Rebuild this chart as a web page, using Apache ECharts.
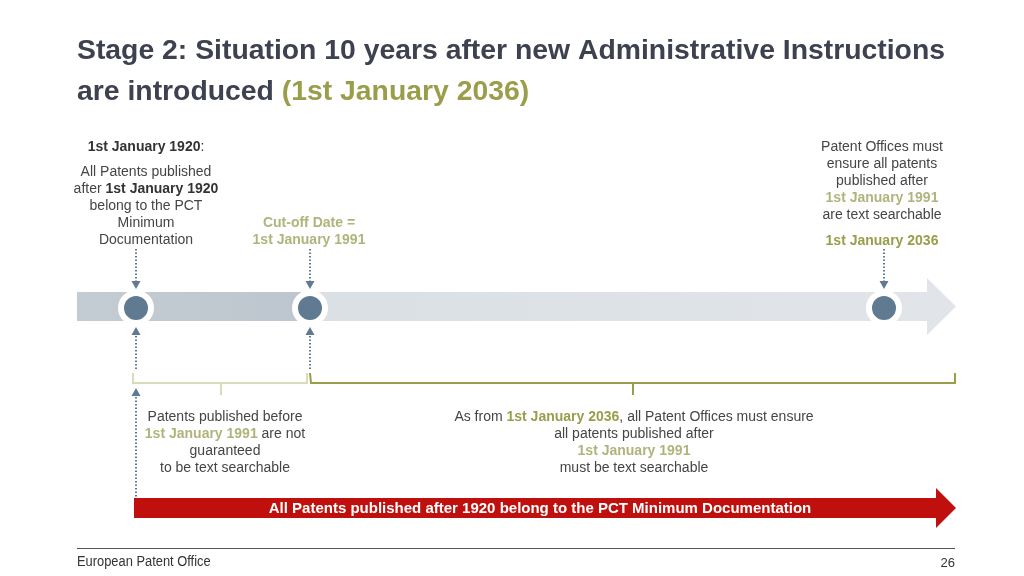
<!DOCTYPE html>
<html>
<head>
<meta charset="utf-8">
<script src="https://cdn.jsdelivr.net/npm/echarts@6/dist/echarts.min.js"></script>
<style>html,body{margin:0;padding:0;background:#fff}#c{width:1024px;height:576px}</style>
</head>
<body>
<div id="c"></div>
<script>
// ---- content (text data) ----
var titleLine1 = 'Stage 2: Situation 10 years after new Administrative Instructions';
var titleLine2a = 'are introduced ';
var titleLine2b = '(1st January 2036)';
var milestones = ['1st January 1920', '1st January 1991', '1st January 2036'];
var topLeftLines = ['{b|1st January 1920}:', 'All Patents published', 'after {b|1st January 1920}', 'belong to the PCT', 'Minimum', 'Documentation'];
var cutoffLines = ['Cut-off Date =', '1st January 1991'];
var topRightLines = ['Patent Offices must', 'ensure all patents', 'published after', '{g|1st January 1991}', 'are text searchable'];
var topRightDate = '1st January 2036';
var bottomLeftLines = ['Patents published before', '{g|1st January 1991} are not', 'guaranteed', 'to be text searchable'];
var bottomMidLines = ['As from {o|1st January 2036}, all Patent Offices must ensure', 'all patents published after', '{g|1st January 1991}', 'must be text searchable'];
var redArrowText = 'All Patents published after 1920 belong to the PCT Minimum Documentation';
var footerLeft = 'European Patent Office';
var footerRight = '26';

// ---- styles ----
var F = '"Liberation Sans", Arial, Helvetica, sans-serif';
var TXT = '#454545';
var DARK = '#3d4150';
var OLIVE = '#9a9d4a';
var LOLIVE = '#b0b47c';
var MARK = '#5f7a91';
var RED = '#c0100e';

function measure(text, font) {
  var c = document.createElement('canvas').getContext('2d');
  c.font = font; return c.measureText(text).width;
}
var richStyles = {
  b: {fontWeight: 'bold', fill: '#333', color: '#333', fontSize: 14, fontFamily: F},
  g: {fontWeight: 'bold', fill: LOLIVE, color: LOLIVE, fontSize: 14, fontFamily: F},
  o: {fontWeight: 'bold', fill: OLIVE, color: OLIVE, fontSize: 14, fontFamily: F}
};
function T(x, y, text, o) {
  var st = {text: text, fill: TXT, fontSize: 14, fontFamily: F, align: 'center', verticalAlign: 'middle',
    textAlign: 'center', textVerticalAlign: 'middle', rich: richStyles};
  for (var k in (o || {})) st[k] = o[k];
  return {type: 'text', x: x, y: y, silent: true, z: 10, style: st};
}
function block(x, y0, lines, dy, o) {
  return lines.map(function (l, i) { return T(x, y0 + i * dy, l, o); });
}
function dotted(x, y1, y2) {
  return {type: 'line', silent: true, shape: {x1: x, y1: y1, x2: x, y2: y2},
    style: {stroke: MARK, lineWidth: 2, lineDash: [1.5, 2]}};
}
function tri(x, y, dir) { // dir 1 = down, -1 = up ; y = tip
  return {type: 'polygon', silent: true, shape: {points: [[x - 4.5, y - dir * 8], [x + 4.5, y - dir * 8], [x, y]]}, style: {fill: MARK}};
}

var el = [];
// title
var tFont = 'bold 28px "Liberation Sans"';
var sx = 868 / measure(titleLine1, tFont);
el.push({type: 'text', x: 77, y: 51, scaleX: sx, silent: true, style: {text: titleLine1, fill: DARK, fontSize: 28, fontWeight: 'bold', fontFamily: F, align: 'left', textAlign: 'left', verticalAlign: 'middle', textVerticalAlign: 'middle'}});
el.push({type: 'text', x: 77, y: 92, scaleX: sx, silent: true, style: {text: titleLine2a + '{o|' + titleLine2b + '}', fill: DARK, fontSize: 28, fontWeight: 'bold', fontFamily: F, align: 'left', textAlign: 'left', verticalAlign: 'middle', textVerticalAlign: 'middle',
  rich: {o: {fill: OLIVE, color: OLIVE, fontSize: 28, fontWeight: 'bold', fontFamily: F}}}});

// grey timeline
el.push({type: 'rect', silent: true, shape: {x: 77, y: 292, width: 233, height: 29}, style: {fill: {type: 'linear', x: 0, y: 0, x2: 1, y2: 0, colorStops: [{offset: 0, color: '#c4ccd3'}, {offset: 1, color: '#bdc6ce'}]}}});
el.push({type: 'polygon', silent: true, shape: {points: [[310, 292], [927, 292], [927, 278], [956, 306.5], [927, 335], [927, 321], [310, 321]]},
  style: {fill: {type: 'linear', x: 0, y: 0, x2: 1, y2: 0, colorStops: [{offset: 0, color: '#dbe0e5'}, {offset: 1, color: '#e1e5e9'}]}}});

// milestones
var mx = [136, 310, 884];
milestones.forEach(function (m, i) {
  el.push({type: 'circle', silent: true, z: 5, shape: {cx: mx[i], cy: 308, r: 15}, style: {fill: MARK, stroke: '#fff', lineWidth: 6}});
  el.push(dotted(mx[i], 249, 282));
  el.push(tri(mx[i], 289, 1));
});
// up arrows under first two
[0, 1].forEach(function (i) {
  el.push(tri(mx[i], 327, -1));
  el.push(dotted(mx[i], 336, 370));
});
el.push(tri(136, 388, -1));
el.push(dotted(136, 397, 518));

// brackets
el.push({type: 'polyline', silent: true, shape: {points: [[133, 373], [133, 383], [307, 383], [307, 373]]}, style: {stroke: '#d9dcbb', lineWidth: 2, fill: null}});
el.push({type: 'line', silent: true, shape: {x1: 221, y1: 383, x2: 221, y2: 395}, style: {stroke: '#d9dcbb', lineWidth: 2}});
el.push({type: 'polyline', silent: true, shape: {points: [[310, 373], [311, 383], [955, 383], [955, 373]]}, style: {stroke: OLIVE, lineWidth: 2, fill: null}});
el.push({type: 'line', silent: true, shape: {x1: 633, y1: 383, x2: 633, y2: 395}, style: {stroke: OLIVE, lineWidth: 2}});

// texts
el = el.concat(block(146, 147, topLeftLines.slice(0, 1), 17, {fill: '#333'}));
el = el.concat(block(146, 172, topLeftLines.slice(1), 17));
el = el.concat(block(309, 223, cutoffLines, 17, {fill: LOLIVE, fontWeight: 'bold'}));
el = el.concat(block(882, 147, topRightLines, 17));
el.push(T(882, 241, topRightDate, {fill: OLIVE, fontWeight: 'bold'}));
el = el.concat(block(225, 417, bottomLeftLines, 17));
el = el.concat(block(634, 417, bottomMidLines, 17));

// red arrow
el.push({type: 'polygon', silent: true, shape: {points: [[134, 498], [936, 498], [936, 488], [956, 508], [936, 528], [936, 518], [134, 518]]}, style: {fill: RED}});
el.push(T(540, 509, redArrowText, {fill: '#fff', fontWeight: 'bold', fontSize: 15}));

// footer
el.push({type: 'line', silent: true, shape: {x1: 77, y1: 548.5, x2: 955, y2: 548.5}, style: {stroke: '#555', lineWidth: 1}});
el.push({type: 'text', x: 77, y: 562, scaleX: 0.92, silent: true, style: {text: footerLeft, fill: '#333', fontSize: 14, fontFamily: F, align: 'left', textAlign: 'left', verticalAlign: 'middle', textVerticalAlign: 'middle'}});
el.push(T(955, 563, footerRight, {fontSize: 13, fill: '#333', align: 'right', textAlign: 'right'}));

var chart = echarts.init(document.getElementById('c'), null, {renderer: 'canvas'});
chart.setOption({animation: false, backgroundColor: '#fff', graphic: {elements: el}});
</script>
</body>
</html>
